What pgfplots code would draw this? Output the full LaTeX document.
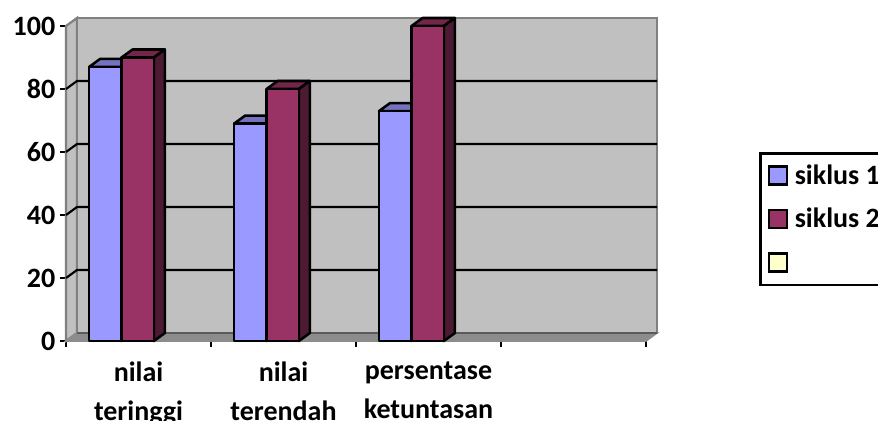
\documentclass[border=0pt]{standalone}
\usepackage{fontspec}
\setmainfont{Carlito}
\usepackage{pgfplots}
\pgfplotsset{compat=1.18}
\definecolor{wall}{HTML}{C0C0C0}
\definecolor{wallline}{HTML}{808080}
\definecolor{floorc}{HTML}{8C8C8C}
\definecolor{sa}{HTML}{9999FF}
\definecolor{satop}{HTML}{7373BF}
\definecolor{saside}{HTML}{4C4C80}
\definecolor{sb}{HTML}{993366}
\definecolor{sbtop}{HTML}{732649}
\definecolor{sbside}{HTML}{4D1A33}
\definecolor{sc}{HTML}{FFFFCC}
% one 3d bar: x left, x right, value, front, top, side
\newcommand{\threedbar}[6]{%
  \pgfmathsetmacro{\xa}{#1+0.0759}
  \pgfmathsetmacro{\xb}{#2+0.0759}
  \pgfmathsetmacro{\yb}{#3+2.54}
  \edef\temp{\noexpand\addplot[forget plot, fill=#5, draw=black, line width=1.9pt, line join=round] coordinates {(#1,#3) (\xa,\yb) (\xb,\yb) (#2,#3)} -- cycle;
  \noexpand\addplot[forget plot, fill=#6, draw=black, line width=1.9pt, line join=round] coordinates {(#2,0) (\xb,2.54) (\xb,\yb) (#2,#3)} -- cycle;
  \noexpand\addplot[forget plot, fill=#4, draw=black, line width=1.9pt, line join=round] coordinates {(#1,0) (#1,#3) (#2,#3) (#2,0)} -- cycle;}%
  \temp}
\pgfplotsset{swatch/.style={legend image code/.code={\draw[black, line width=1.9pt, fill=#1] (0pt,-6.75pt) rectangle (13.5pt,6.75pt);}}}
\begin{document}
\begin{tikzpicture}
\useasboundingbox (0pt,0pt) rectangle (658.5pt,-315.75pt);
\begin{axis}[
  at={(49.5pt,-255.75pt)}, anchor=south west,
  scale only axis, width=435pt, height=236.25pt,
  xmin=0, xmax=4, ymin=0, ymax=100, clip=false,
  axis x line*=bottom, axis y line*=left,
  axis line style={line width=1.9pt, black},
  tick style={line width=1.7pt, black},
  tick align=outside, major tick length=4.5pt,
  xtick={0,1,2,3,4}, xticklabels={,,,,},
  ytick={0,20,40,60,80,100},
  yticklabel style={font=\fontsize{21}{22}\selectfont\bfseries, /pgf/number format/assume math mode=true},
  extra x ticks={0.5,1.5,2.5},
  extra x tick labels={{nilai\\teringgi},{nilai\\terendah},{persentase\\ketuntasan}},
  extra x tick style={major tick length=0pt, tick label style={font=\fontsize{21}{29.5}\selectfont\bfseries, align=center, yshift=-12pt}},
  legend style={at={(1.1948,0.6)}, anchor=north west, draw=black, line width=1.9pt, fill=white,
    font=\fontsize{21}{21}\selectfont\bfseries, inner xsep=5.5pt, inner ysep=8.5pt, row sep=16.5pt,
    nodes={inner sep=0pt, anchor=west}},
  legend cell align=left,
]
% side wall, back wall, floor
\addplot[forget plot, fill=wall, draw=wallline, line width=1.7pt] coordinates {(0,0) (0.0759,2.54) (0.0759,102.54) (0,100)} -- cycle;
\addplot[forget plot, fill=wall, draw=wallline, line width=1.7pt] coordinates {(0.0759,2.54) (4.0759,2.54) (4.0759,102.54) (0.0759,102.54)} -- cycle;
% grid on the walls
\addplot[forget plot, black, line width=1.6pt] coordinates {(0,20) (0.0759,22.54) (4.0759,22.54)};
\addplot[forget plot, black, line width=1.6pt] coordinates {(0,40) (0.0759,42.54) (4.0759,42.54)};
\addplot[forget plot, black, line width=1.6pt] coordinates {(0,60) (0.0759,62.54) (4.0759,62.54)};
\addplot[forget plot, black, line width=1.6pt] coordinates {(0,80) (0.0759,82.54) (4.0759,82.54)};
\addplot[forget plot, fill=floorc, draw=floorc, line width=1.2pt] coordinates {(0,0) (0.0759,2.54) (4.0759,2.54) (4,0)} -- cycle;
\addplot[forget plot, wallline!70!black, line width=1.2pt] coordinates {(0.0759,2.54) (4.0759,2.54)};
% bars
\threedbar{0.159}{0.383}{87}{sa}{satop}{saside}
\threedbar{0.383}{0.606}{90}{sb}{sbtop}{sbside}
\threedbar{1.159}{1.383}{69}{sa}{satop}{saside}
\threedbar{1.383}{1.606}{80}{sb}{sbtop}{sbside}
\threedbar{2.159}{2.383}{73}{sa}{satop}{saside}
\threedbar{2.383}{2.606}{100}{sb}{sbtop}{sbside}
\addlegendimage{swatch=sa}
\addlegendentry{\strut\hspace*{5pt}\makebox[100pt][l]{siklus 1}}
\addlegendimage{swatch=sb}
\addlegendentry{\strut\hspace*{5pt}siklus 2}
\addlegendimage{swatch=sc}
\addlegendentry{\strut}
\end{axis}
\end{tikzpicture}
\end{document}
